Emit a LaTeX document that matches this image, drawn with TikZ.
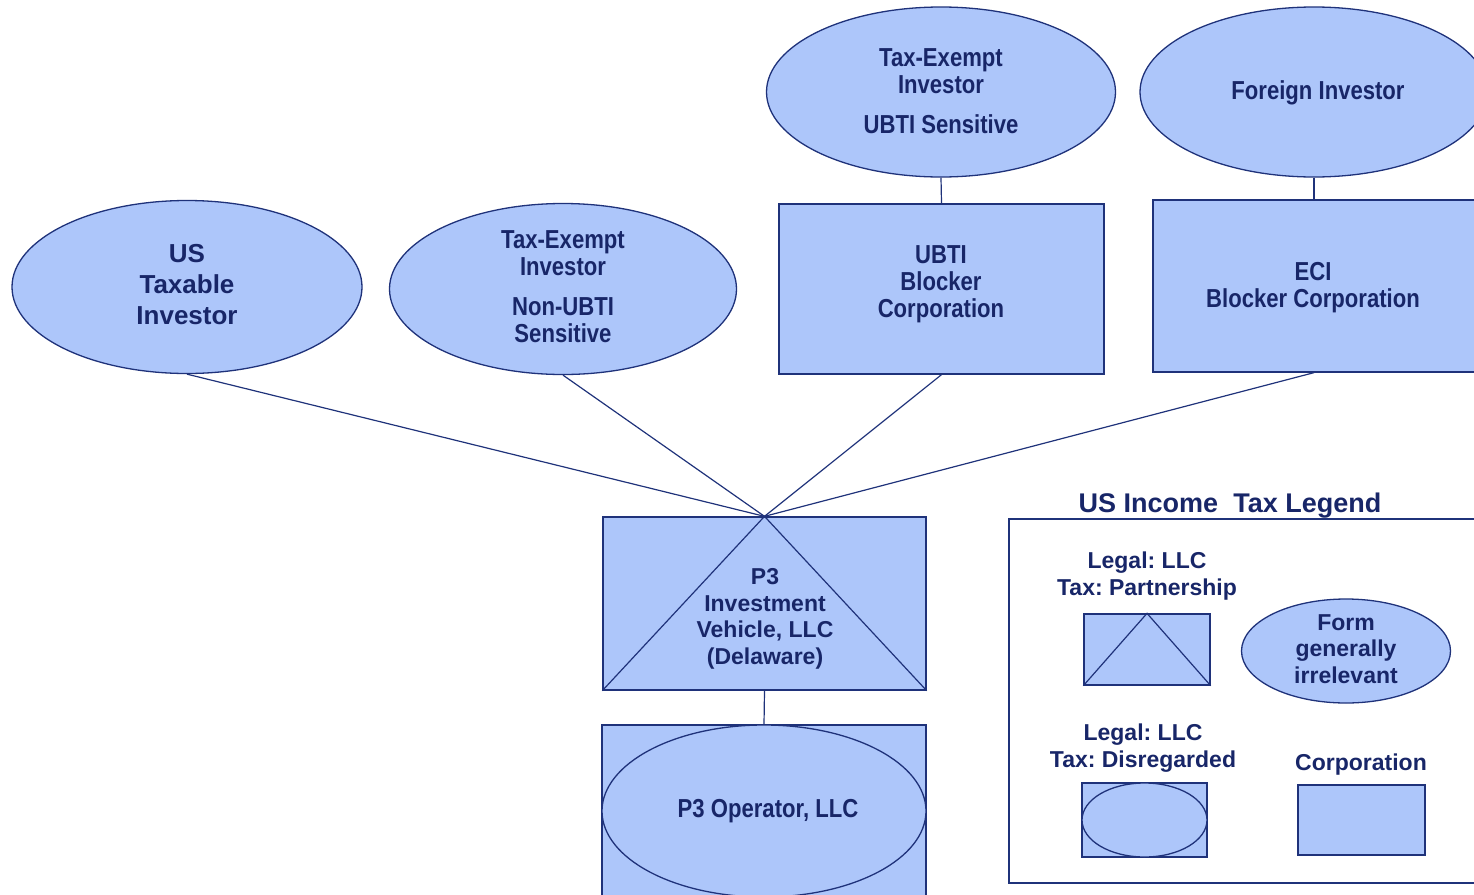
\documentclass[tikz,border=0pt]{standalone}
\usepackage{fontspec}
\setmainfont{Liberation Sans}
\newfontfamily\narrowfont[FakeStretch=0.85]{Liberation Sans}
\usetikzlibrary{shapes.geometric}
\definecolor{fillc}{RGB}{173,198,250}
\definecolor{linec}{RGB}{31,50,122}
\definecolor{textc}{RGB}{24,38,104}
\frenchspacing
\tikzset{
  ent/.style={draw=linec, fill=fillc, line width=1.3pt},
  oval/.style={ent, ellipse, inner sep=0pt},
  box/.style={ent, rectangle, inner sep=0pt},
  lbl/.style={text=textc, align=center, inner sep=0pt},
  nfont/.style={font=\narrowfont\bfseries\fontsize{26}{27}\selectfont},
  wfont/.style={font=\bfseries\fontsize{23}{26.5}\selectfont},
  bigfont/.style={font=\bfseries\fontsize{26}{31}\selectfont},
  titlefont/.style={font=\bfseries\fontsize{27}{30}\selectfont},
  link/.style={draw=linec, line width=1.2pt}
}
\begin{document}
\begin{tikzpicture}[x=1pt,y=-1pt]
\useasboundingbox (0,0) rectangle (1474,894);
\clip (0,0) rectangle (1474,894);
% investors
\node[oval, minimum width=350pt, minimum height=173pt] (ust) at (187,287) {};
\node[oval, minimum width=347pt, minimum height=171pt] (ten) at (563,289) {};
\node[oval, minimum width=349pt, minimum height=170pt] (teu) at (941,92) {};
\node[oval, minimum width=348pt, minimum height=170pt] (fi) at (1314,92) {};
% blockers
\node[box, minimum width=325pt, minimum height=170pt] (ubti) at (941.5,289) {};
\node[box, minimum width=322pt, minimum height=172pt] (eci) at (1314,286) {};
% P3 vehicle
\node[box, minimum width=323pt, minimum height=173pt] (p3) at (764.5,603.5) {};
\draw[link] (p3.south west) -- (p3.north) -- (p3.south east);
% operator
\node[box, minimum width=324pt, minimum height=200pt] (opbox) at (764,825) {};
\node[oval, minimum width=324pt, minimum height=172pt] (op) at (764,811) {};
% connectors
\draw[link] (teu.south) -- (ubti.north);
\draw[link] (fi.south) -- (eci.north);
\draw[link] (ust.south) -- (p3.north);
\draw[link] (ten.south) -- (p3.north);
\draw[link] (ubti.south) -- (p3.north);
\draw[link] (eci.south) -- (p3.north);
\draw[link] (p3.south) -- (opbox.north);
% texts
\node[lbl, bigfont] (tust) at (187,285) {US\\Taxable\\Investor};
\node[lbl, nfont] (tten) at (563,287) {Tax-Exempt\\Investor\\[13pt]Non-UBTI\\Sensitive};
\node[lbl, nfont] (tteu) at (941,91) {Tax-Exempt\\Investor\\[13pt]UBTI Sensitive};
\node[lbl, nfont] (tfi) at (1318,93) {Foreign Investor};
\node[lbl, nfont] (tubti) at (941,284) {UBTI\\Blocker\\Corporation};
\node[lbl, nfont] (teci) at (1313,288) {ECI\\Blocker Corporation};
\node[lbl, wfont] (tp3) at (765,619) {P3\\Investment\\Vehicle, LLC\\(Delaware)};
\node[lbl, nfont] (top) at (768,811) {P3 Operator, LLC};
% legend
\node[lbl, titlefont] (lt) at (1230,506) {US Income\ \ Tax Legend};
\node[draw=linec, line width=1.3pt, minimum width=480pt, minimum height=364pt, inner sep=0pt] (leg) at (1249,701) {};
\node[lbl, wfont] (tlp) at (1147,576) {Legal: LLC\\Tax: Partnership};
\node[box, minimum width=126pt, minimum height=71pt] (lp) at (1147,649.5) {};
\draw[link] (lp.south west) -- (lp.north) -- (lp.south east);
\node[oval, minimum width=209pt, minimum height=104pt] (lf) at (1346,651) {};
\node[lbl, wfont] (tlf) at (1346,649) {Form\\generally\\irrelevant};
\node[lbl, wfont] (tld) at (1143,748) {Legal: LLC\\Tax: Disregarded};
\node[box, minimum width=125pt, minimum height=74pt] (ld) at (1144.5,820) {};
\node[oval, minimum width=125pt, minimum height=74pt] (lde) at (1144.5,820) {};
\node[lbl, wfont] (tlc) at (1361,765) {Corporation};
\node[box, minimum width=127pt, minimum height=70pt] (lc) at (1361.5,820) {};
\end{tikzpicture}
\end{document}
